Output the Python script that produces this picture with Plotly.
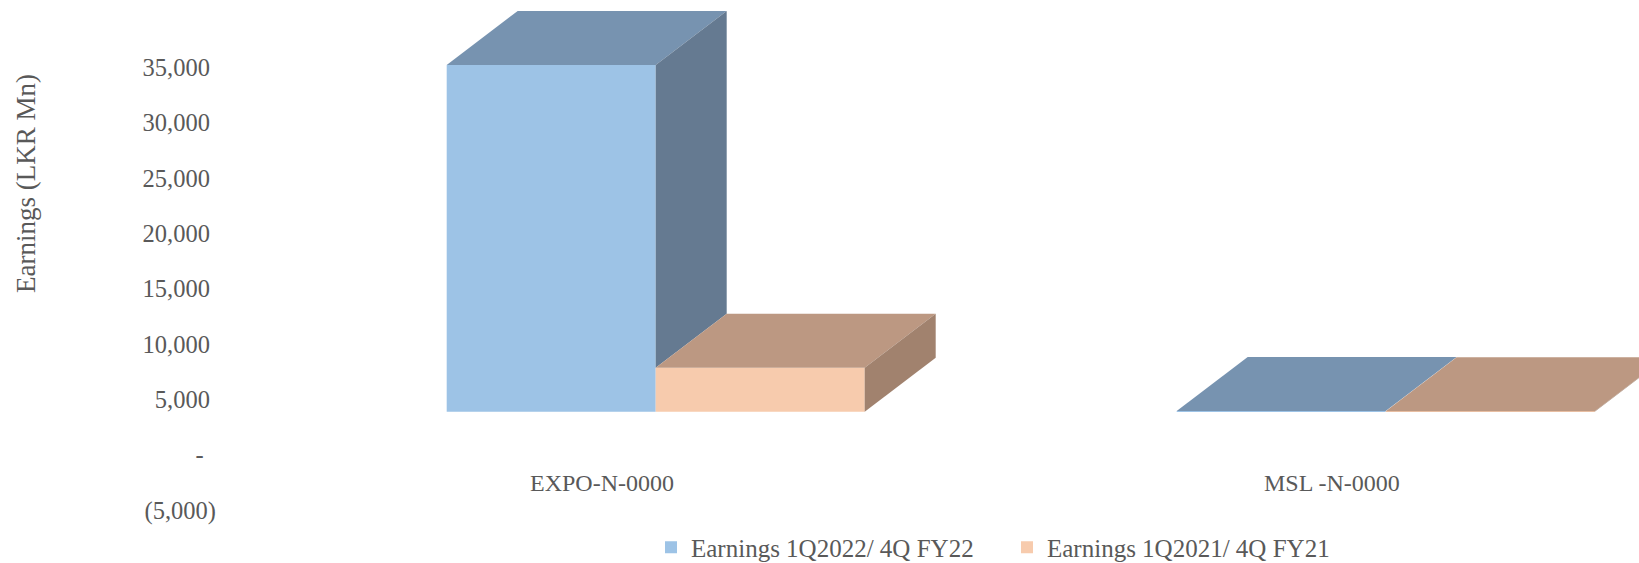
import plotly.graph_objects as go

# ---- data ----
categories = ["EXPO-N-0000", "MSL -N-0000"]
series_names = ["Earnings 1Q2022/ 4Q FY22", "Earnings 1Q2021/ 4Q FY21"]
earnings_1q2022 = [31325, 60]
earnings_1q2021 = [3975, 50]
tick_values = [-5000, 0, 5000, 10000, 15000, 20000, 25000, 30000, 35000]
tick_labels = ["(5,000)", "-\u00a0\u00a0", "5,000\u00a0", "10,000\u00a0", "15,000\u00a0",
               "20,000\u00a0", "25,000\u00a0", "30,000\u00a0", "35,000\u00a0"]

# ---- style ----
front_colors = ["#9DC3E6", "#F7CBAD"]
top_colors = ["#7793B0", "#BC9882"]
side_colors = ["#657A91", "#A1826E"]
FONT = "Liberation Serif"
TXT = "#595959"

W, H = 1639, 563
L, R, T, B = 217, 0, 0, 0
plot_w = W - L - R
plot_h = H - T - B
px_per_cat = 730.0
px_per_unit = 55.34 / 5000    # pixels per value unit
bar_w = 209.0 / px_per_cat    # width of one bar in category units
dx = 71.0 / px_per_cat        # depth offset, x
dy = 54.0 / px_per_unit       # depth offset, value units

x_lo = -(655.7 - L) / px_per_cat
x_hi = x_lo + plot_w / px_per_cat
# labelled axis: 35,000 at pixel 67.3 from top
yl_top = 35000 + 67.3 / px_per_unit
yl_bot = yl_top - plot_h / px_per_unit
# bar axis: zero at pixel 411.7
yb_top = 411.7 / px_per_unit
yb_bot = yb_top - plot_h / px_per_unit

series = [earnings_1q2022, earnings_1q2021]
xs = list(range(len(categories)))

fig = go.Figure()
for s, vals in enumerate(series):
    fig.add_trace(go.Bar(x=xs, y=vals, name=series_names[s],
                         marker=dict(color=front_colors[s], line=dict(width=0)),
                         offsetgroup=str(s), hoverinfo="skip"))

# 3D top and side faces, computed from the data values
for i in xs:
    for s, vals in enumerate(series):
        v = vals[i]
        x0 = i - bar_w + s * bar_w
        x1 = x0 + bar_w
        if s + 1 < len(series):
            b = max(0, min(v, series[s + 1][i]))
        else:
            b = 0
        fig.add_trace(go.Scatter(
            x=[x0, x1, x1 + dx, x0 + dx, x0], y=[v, v, v + dy, v + dy, v],
            mode="lines", fill="toself", fillcolor=top_colors[s],
            line=dict(width=0, color=top_colors[s]), showlegend=False, hoverinfo="skip"))
        fig.add_trace(go.Scatter(
            x=[x1, x1, x1 + dx, x1 + dx, x1], y=[b, v, v + dy, b + dy, b],
            mode="lines", fill="toself", fillcolor=side_colors[s],
            line=dict(width=0, color=side_colors[s]), showlegend=False, hoverinfo="skip"))

# dummy trace for the labelled axis
fig.add_trace(go.Scatter(x=[None], y=[None], yaxis="y2", showlegend=False, hoverinfo="skip"))

annotations = []
label_shift = -53.7 / px_per_cat
for i, c in enumerate(categories):
    annotations.append(dict(x=i + label_shift, xref="x", y=(H - B - 483) / plot_h, yref="paper",
                            xanchor="center", yanchor="middle",
                            text=c, showarrow=False, font=dict(family=FONT, size=24, color=TXT)))
annotations.append(dict(x=(26 - L) / plot_w, xref="paper", y=(H - B - 184) / plot_h, yref="paper",
                        xanchor="center", yanchor="middle",
                        text="Earnings (LKR Mn)", textangle=-90, showarrow=False,
                        font=dict(family=FONT, size=27, color=TXT)))

fig.update_layout(
    width=W, height=H,
    margin=dict(l=L, r=R, t=T, b=B, autoexpand=False),
    paper_bgcolor="white", plot_bgcolor="white",
    barmode="group", bargap=1 - 2 * bar_w, bargroupgap=0,
    xaxis=dict(range=[x_lo, x_hi], showticklabels=False, showgrid=False, zeroline=False,
               showline=False, fixedrange=True, automargin=False),
    yaxis=dict(range=[yb_bot, yb_top], showticklabels=False, showgrid=False, zeroline=False,
               showline=False, automargin=False),
    yaxis2=dict(range=[yl_bot, yl_top], overlaying="y", side="left", tickmode="array",
                tickvals=tick_values, ticktext=tick_labels, showgrid=False, zeroline=False,
                showline=False, ticks="", automargin=False,
                tickfont=dict(family=FONT, size=24.5, color=TXT)),
    legend=dict(orientation="h", x=(651 - L) / plot_w, xanchor="left",
                y=(H - B - 547.5) / plot_h, yanchor="middle",
                font=dict(family=FONT, size=25, color=TXT), entrywidth=311,
                entrywidthmode="pixels", bgcolor="rgba(0,0,0,0)"),
    annotations=annotations,
    showlegend=True,
)

fig.write_html("out.html", config={"displayModeBar": False},
               post_script="document.body.style.margin='0';")
